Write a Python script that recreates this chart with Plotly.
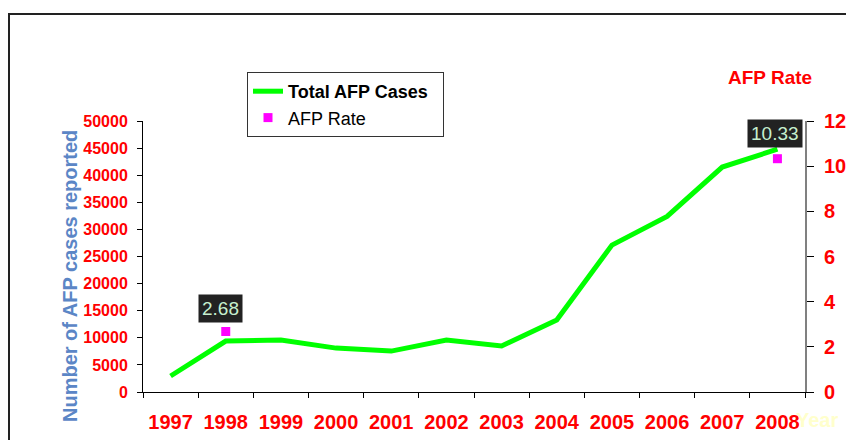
import plotly.graph_objects as go

years = ["1997", "1998", "1999", "2000", "2001", "2002", "2003", "2004", "2005", "2006", "2007", "2008"]
total_cases = [2950, 9400, 9600, 8100, 7550, 9600, 8500, 13300, 27100, 32400, 41500, 44800]
afp_rate = [None, 2.68, None, None, None, None, None, None, None, None, None, 10.33]
rate_labels = {"1998": "2.68", "2008": "10.33"}

FONT = "Arial, Liberation Sans, sans-serif"
RED = "#FF0000"

# page body has an 8px margin, so the figure is 846x432 and sits at (8, 8)
PW, PH = 662, 271          # plot area size
PL, PB = 143, 392          # plot area left / bottom in window pixels


def px(X):
    return (X - PL) / PW


def py(Y):
    return (PB - Y) / PH


fig = go.Figure()
fig.add_trace(go.Scatter(
    x=years, y=total_cases, mode="lines", name="<b>Total AFP Cases</b>\u00a0\u00a0",
    line=dict(color="#00FF00", width=5), yaxis="y"))
fig.add_trace(go.Scatter(
    x=years, y=afp_rate, mode="markers", name="AFP Rate",
    marker=dict(color="#FF00FF", symbol="square", size=9), yaxis="y2"))

shifts = {"1998": (-5, 23), "2008": (-2, 25)}
for yr, txt in rate_labels.items():
    i = years.index(yr)
    dx, dy = shifts[yr]
    fig.add_annotation(x=i, y=afp_rate[i], xref="x", yref="y2", text=txt,
                       showarrow=False, xshift=dx, yshift=dy,
                       bgcolor="#222222", borderpad=3,
                       font=dict(family=FONT, size=19, color="#C6EFCE"))

fig.update_layout(
    width=846, height=432,
    margin=dict(l=135, r=49, t=113, b=48, autoexpand=False),
    plot_bgcolor="white", paper_bgcolor="white",
    font=dict(family=FONT),
    showlegend=True,
    legend=dict(x=px(247), y=py(72), xanchor="left", yanchor="top",
                bgcolor="white", bordercolor="#333333", borderwidth=1,
                tracegroupgap=0,
                font=dict(family=FONT, size=18, color="black")),
    xaxis=dict(type="category", categoryorder="array", categoryarray=years,
               range=[-0.5, len(years) - 0.5], automargin=False,
               showgrid=False, showline=True, linecolor="black", linewidth=1,
               ticks="outside", ticklen=5, tickcolor="black", tickson="boundaries",
               tickangle=0,
               tickfont=dict(family=FONT, size=20, color=RED, weight="bold"),
               ticklabelstandoff=12, zeroline=False),
    yaxis=dict(range=[0, 50000], dtick=5000, tickformat="d", automargin=False,
               showgrid=False, showline=True, linecolor="black",
               linewidth=1, ticks="outside", ticklen=5, tickcolor="black", zeroline=False,
               tickfont=dict(family=FONT, size=16, color=RED, weight="bold"),
               ticklabelstandoff=6),
    yaxis2=dict(range=[0, 12], dtick=2, overlaying="y", side="right", showgrid=False,
                automargin=False,
                showline=True, linecolor="#808080", linewidth=2, ticks="outside", ticklen=7,
                tickcolor="black", zeroline=False,
                tickfont=dict(family=FONT, size=20, color=RED, weight="bold"),
                ticklabelstandoff=6),
    yaxis3=dict(range=[0, 12], dtick=2, overlaying="y", side="right", anchor="x",
                automargin=False, showgrid=False, showline=False, ticks="inside",
                ticklen=6, tickcolor="black", showticklabels=False, zeroline=False),
)

# titles
fig.add_annotation(text="<b>Number of AFP cases reported</b>", xref="paper", yref="paper",
                   x=px(70), y=py(276), xanchor="center", yanchor="middle",
                   textangle=-90, showarrow=False,
                   font=dict(family=FONT, size=20, color="#5B86C6"))
fig.add_annotation(text="<b>AFP Rate</b>", xref="paper", yref="paper",
                   x=px(770), y=py(77), xanchor="center", yanchor="middle", showarrow=False,
                   font=dict(family=FONT, size=19, color=RED))
fig.add_annotation(text="<b>Year</b>", xref="paper", yref="paper",
                   x=px(817), y=py(420), xanchor="center", yanchor="middle", showarrow=False,
                   font=dict(family=FONT, size=20, color="#FFFFCC"))

# outer frame
fig.add_shape(type="rect", xref="paper", yref="paper",
              x0=px(9), y0=py(470), x1=px(900), y1=py(14),
              line=dict(color="#222222", width=2), layer="below")

fig.write_html("out.html")
